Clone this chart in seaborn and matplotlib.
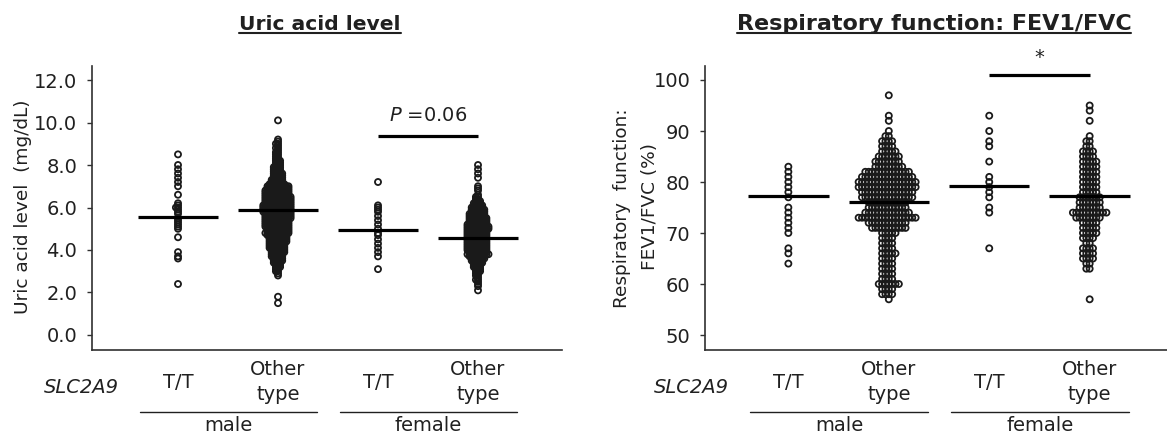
import numpy as np
import pandas as pd
import matplotlib
matplotlib.use("Agg")
import matplotlib.pyplot as plt
from matplotlib.lines import Line2D
from matplotlib.collections import PathCollection
from matplotlib.ticker import FormatStrFormatter
import seaborn as sns

# ---------------- data ----------------
categories = ["male T/T", "male Other", "female T/T", "female Other"]
tick_labels = ["T/T", "Other\ntype", "T/T", "Other\ntype"]
sex_labels = ["male", "female"]
gene_label = "SLC2A9"

# Uric acid level (mg/dL)
ua_male_tt = [8.5, 8.0, 7.8, 7.6, 7.4, 7.2, 7.0, 6.6, 6.2, 6.1, 6.0, 6.0, 5.9, 5.8,
              5.7, 5.5, 5.4, 5.3, 5.2, 5.1, 5.0, 4.6, 3.9, 3.7, 3.6, 2.4]
ua_male_other = {1.5: 1, 1.8: 1, 2.8: 1, 2.9: 1, 3.0: 2, 3.1: 2, 3.2: 3, 3.3: 3, 3.4: 4,
                 3.5: 5, 3.6: 5, 3.7: 6, 3.8: 6, 3.9: 7, 4.0: 7, 4.1: 8, 4.2: 8, 4.3: 8,
                 4.4: 9, 4.5: 9, 4.6: 9, 4.7: 10, 4.8: 12, 4.9: 11, 5.0: 11, 5.1: 12,
                 5.2: 12, 5.3: 12, 5.4: 12, 5.5: 13, 5.6: 13, 5.7: 13, 5.8: 14, 5.9: 14,
                 6.0: 14, 6.1: 14, 6.2: 13, 6.3: 13, 6.4: 13, 6.5: 13, 6.6: 12, 6.7: 12,
                 6.8: 12, 6.9: 11, 7.0: 11, 7.1: 8, 7.2: 6, 7.3: 6, 7.4: 5, 7.5: 5,
                 7.6: 5, 7.7: 4, 7.8: 4, 7.9: 4, 8.0: 3, 8.1: 3, 8.2: 3, 8.3: 2, 8.4: 2,
                 8.5: 2, 8.6: 2, 8.7: 1, 8.8: 2, 8.9: 1, 9.0: 2, 9.1: 1, 9.2: 1, 10.1: 1}
ua_female_tt = [7.2, 6.1, 6.0, 5.9, 5.8, 5.6, 5.4, 5.2, 5.0, 4.8, 4.7, 4.5, 4.3, 4.1,
                3.9, 3.7, 3.1]
ua_female_other = {2.1: 1, 2.3: 1, 2.4: 1, 2.5: 1, 2.6: 2, 2.7: 1, 2.8: 2, 2.9: 2,
                   3.0: 3, 3.1: 3, 3.2: 4, 3.3: 4, 3.4: 5, 3.5: 6, 3.6: 7, 3.7: 8,
                   3.8: 11, 3.9: 9, 4.0: 10, 4.1: 10, 4.2: 10, 4.3: 10, 4.4: 10,
                   4.5: 10, 4.6: 10, 4.7: 10, 4.8: 10, 4.9: 10, 5.0: 11, 5.1: 11,
                   5.2: 10, 5.3: 9, 5.4: 9, 5.5: 9, 5.6: 8, 5.7: 8, 5.8: 7, 5.9: 7,
                   6.0: 6, 6.1: 5, 6.2: 4, 6.3: 3, 6.4: 2, 6.5: 2, 6.6: 1, 6.8: 1,
                   6.9: 1, 7.0: 1, 7.4: 1, 7.6: 1, 7.8: 1, 8.0: 1}
ua_means = [5.57, 5.88, 4.94, 4.55]
ua_ticks = [0, 2, 4, 6, 8, 10, 12]
ua_sig_text = "$\\it{P}$ =0.06"
ua_sig_y = 9.36

# Respiratory function FEV1/FVC (%)
fev_male_tt = [83, 82, 81, 80, 79, 78, 77, 75, 74, 73, 72, 71, 70, 67, 66, 64]
fev_male_other = {97: 1, 93: 1, 92: 1, 90: 1, 89: 2, 88: 4, 87: 4, 86: 5, 85: 7,
                  84: 8, 83: 9, 82: 14, 81: 16, 80: 18, 79: 18, 78: 16, 77: 16,
                  76: 12, 75: 12, 74: 14, 73: 18, 72: 12, 71: 11, 70: 5, 69: 4, 68: 4,
                  67: 4, 66: 5, 65: 4, 64: 4, 63: 4, 62: 4, 61: 4, 60: 7, 59: 4,
                  58: 4, 57: 1}
fev_female_tt = [93, 90, 88, 87, 84, 81, 80, 79, 78, 77, 75, 74, 67]
fev_female_other = {95: 1, 94: 1, 92: 1, 89: 1, 88: 2, 87: 2, 86: 4, 85: 4, 84: 5,
                    83: 5, 82: 5, 81: 5, 80: 5, 79: 5, 78: 5, 77: 7, 76: 7, 75: 7,
                    74: 11, 73: 8, 72: 5, 71: 5, 70: 5, 69: 4, 68: 2, 67: 4, 66: 4,
                    65: 4, 64: 2, 63: 2, 57: 1}
fev_means = [77.2, 76.1, 79.2, 77.2]
fev_ticks = [50, 60, 70, 80, 90, 100]
fev_sig_text = "*"
fev_sig_y = 101.0


def expand(d):
    return np.repeat(list(d.keys()), list(d.values()))


def make_df(groups):
    return pd.DataFrame({
        "group": np.concatenate([[c] * len(g) for c, g in zip(categories, groups)]),
        "value": np.concatenate([np.asarray(g, float) for g in groups]),
    })


ua_df = make_df([ua_male_tt, expand(ua_male_other), ua_female_tt, expand(ua_female_other)])
fev_df = make_df([fev_male_tt, expand(fev_male_other), fev_female_tt, expand(fev_female_other)])

# ---------------- style ----------------
sns.set_theme(style="white")
plt.rcParams["font.family"] = ["DejaVu Sans"]
plt.rcParams["mathtext.fontset"] = "dejavusans"
TXT = "#202020"

W, H = 1167, 438
fig = plt.figure(figsize=(W / 100, H / 100), dpi=100)


def px_axes(l, r, t, b):
    return fig.add_axes([l / W, 1 - b / H, (r - l) / W, (b - t) / H])


ax1 = px_axes(92, 562, 66, 350)
ax2 = px_axes(705, 1167, 66, 350)


def ya(ypix):  # figure pixel row -> axes fraction
    return (350 - ypix) / 284


panels = [
    dict(ax=ax1, df=ua_df, coll=1.44, xlim=(-0.86, 3.84), ylim=(-0.706, 12.659),
         ticks=ua_ticks, fmt="%.1f", means=ua_means, sig=ua_sig_text, sig_y=ua_sig_y,
         sig_text_y=10.35, title="Uric acid level", tx=320, tfs=14.6),
    dict(ax=ax2, df=fev_df, coll=2.3, xlim=(-0.83, 3.77), ylim=(47.06, 102.745),
         ticks=fev_ticks, fmt="%d", means=fev_means, sig=fev_sig_text, sig_y=fev_sig_y,
         sig_text_y=104.5, title="Respiratory function: FEV1/FVC", tx=934, tfs=16),
]

for p in panels:
    ax = p["ax"]
    ax.set_xlim(*p["xlim"]); ax.set_ylim(*p["ylim"])
    sns.swarmplot(data=p["df"], x="group", y="value", order=categories,
                  size=p["coll"], linewidth=0, color="black", ax=ax, zorder=2)
    ax.set_xlim(*p["xlim"]); ax.set_ylim(*p["ylim"])
    ax.set_xlabel(""); ax.set_ylabel("")
    ax.set_xticks([])
    ax.set_yticks(p["ticks"])
    ax.yaxis.set_major_formatter(FormatStrFormatter(p["fmt"]))
    ax.tick_params(axis="y", left=True, direction="out", length=3.6, width=1,
                   color="#303030", labelsize=14, labelcolor=TXT, pad=7)
    for s in ("top", "right"):
        ax.spines[s].set_visible(False)
    for s in ("left", "bottom"):
        ax.spines[s].set_color("#303030")
        ax.spines[s].set_linewidth(1.2)

    pos = np.arange(len(categories))
    ax.hlines(p["means"], pos - 0.40, pos + 0.40, colors="black", lw=2.3, zorder=4)
    ax.plot([2, 3], [p["sig_y"], p["sig_y"]], color="black", lw=2.3,
            solid_capstyle="butt", zorder=4)
    ax.text(2.5, p["sig_text_y"], p["sig"], ha="center", va="center", fontsize=14,
            color=TXT, clip_on=False)

    tr = ax.get_xaxis_transform()
    for i, lab in enumerate(tick_labels):
        parts = lab.split("\n")
        if len(parts) == 1:
            ax.text(i, ya(388), parts[0], ha="center", va="baseline", fontsize=14,
                    color=TXT, transform=tr, clip_on=False)
        else:
            ax.text(i, ya(375), parts[0], ha="center", va="baseline", fontsize=14,
                    color=TXT, transform=tr, clip_on=False)
            ax.text(i, ya(400), parts[1], ha="center", va="baseline", fontsize=14,
                    color=TXT, transform=tr, clip_on=False)
    ax.text(-0.97, ya(393), gene_label, ha="center", va="baseline", fontsize=14,
            style="italic", color=TXT, transform=tr, clip_on=False)
    for (x0, x1), lab in zip([(-0.38, 1.39), (1.62, 3.39)], sex_labels):
        ax.add_line(Line2D([x0, x1], [ya(412), ya(412)], transform=tr, color="#202020",
                           lw=1.0, clip_on=False))
        ax.text((x0 + x1) / 2, ya(431), lab, ha="center", va="baseline", fontsize=14,
                color=TXT, transform=tr, clip_on=False)
    p["title_artist"] = fig.text(p["tx"] / W, 1 - 30 / H, p["title"], ha="center",
                                 va="baseline", fontsize=p["tfs"], fontweight="bold",
                                 color=TXT)

fig.text(23 / W, 1 - 207 / H, "Uric acid level  (mg/dL)", rotation=90, ha="center",
         va="center", fontsize=13.3, color=TXT)
fig.text(622 / W, 1 - 208 / H, "Respiratory  function:", rotation=90, ha="center",
         va="center", fontsize=13.3, color=TXT)
fig.text(650 / W, 1 - 207 / H, "FEV1/FVC (%)", rotation=90, ha="center",
         va="center", fontsize=13.3, color=TXT)

# run the swarm layout with the final axis scales, then freeze it and enlarge markers
fig.canvas.draw()
for p in panels:
    for coll in p["ax"].collections:
        if not isinstance(coll, PathCollection):
            continue
        if "draw" in vars(coll):
            del coll.draw
        coll.set_sizes([19.0])
        coll.set_facecolor("none")
        coll.set_edgecolor("#1a1a1a")
        coll.set_linewidth(1.3)

renderer = fig.canvas.get_renderer()
for p in panels:
    bb = p["title_artist"].get_window_extent(renderer)
    fig.add_artist(Line2D([bb.x0 / W, bb.x1 / W], [1 - 33 / H, 1 - 33 / H],
                          transform=fig.transFigure, color=TXT, lw=1.5))

fig.savefig("out.png", dpi=100)
